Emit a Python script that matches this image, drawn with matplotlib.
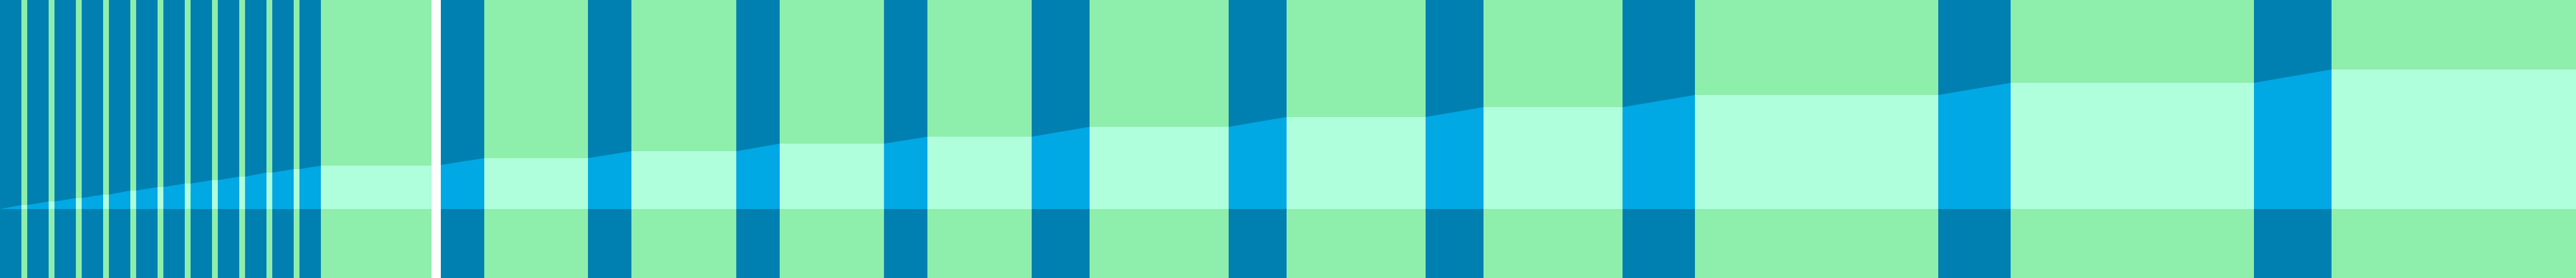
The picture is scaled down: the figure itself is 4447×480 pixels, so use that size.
import numpy as np
import matplotlib
matplotlib.use("Agg")
import matplotlib.pyplot as plt

# green bands: start / end along x, and the level of the area over each band
band_start = [37, 84, 131, 178, 225, 272, 319, 366, 413, 460, 507,
              554, 836, 1090, 1346, 1601, 1881, 2221, 2561, 2926, 3471, 4025]
band_end = [47, 94, 141, 188, 235, 282, 329, 376, 423, 470, 517,
            753, 1015, 1271, 1526, 1781, 2121, 2461, 2801, 3346, 3891, 4447]
levels = [7, 13, 19, 25, 32, 38, 44, 50, 56, 63, 69,
          75, 88, 100, 113, 125, 142, 159, 176, 197, 218, 241]

marker_x = 753

x_min, x_max = 0, 4447
y_min, y_max = -119, 361

c_dark = "#0080b0"
c_green = "#8eeeac"
c_bright = "#00a8e4"
c_mint = "#b0ffdc"

fig = plt.figure(figsize=(44.47, 4.8), dpi=100)
ax = fig.add_axes([0, 0, 1, 1])

# dark background, green bands on top
ax.axvspan(x_min, x_max, color=c_dark, lw=0)
for s, e in zip(band_start, band_end):
    ax.axvspan(s, e, color=c_green, lw=0)

# area outline: flat over each green band, straight ramp across the gaps
xs = [x_min]
ys = [0]
for s, e, v in zip(band_start, band_end, levels):
    xs += [s, e]
    ys += [v, v]
ax.fill_between(xs, 0, ys, color=c_bright, lw=0)

widths = np.array(band_end) - np.array(band_start)
ax.bar(band_start, levels, width=widths, bottom=0, align="edge", color=c_mint, lw=0)

ax.axvline(marker_x, color="white", lw=16 * 72 / 100)

ax.set_xlim(x_min, x_max)
ax.set_ylim(y_min, y_max)
ax.axis("off")

fig.savefig("out.png", dpi=100)
